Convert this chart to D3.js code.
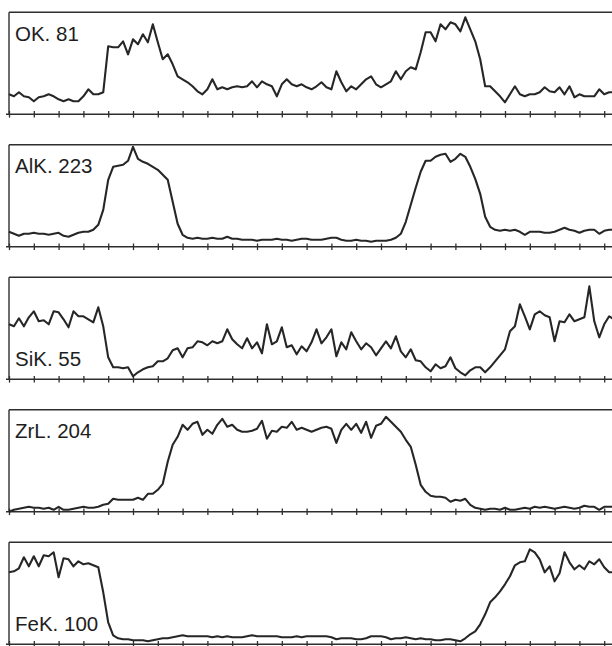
<!DOCTYPE html>
<html>
<head>
<meta charset="utf-8">
<script src="https://cdn.jsdelivr.net/npm/d3@7"></script>
<style>
  html, body { margin: 0; padding: 0; background: #fff; }
  svg { display: block; }
  .lbl { font-family: "Liberation Sans", Arial, sans-serif; font-size: 20.5px; fill: #1e1e1e; }
</style>
</head>
<body>
<svg id="chart" width="612" height="646"></svg>
<script>
// line-scan profiles, one panel per element. values = relative intensity
var labels = ["OK. 81", "AlK. 223", "SiK. 55", "ZrL. 204", "FeK. 100"];
var labelAt = ["top", "top", "bottom", "top", "bottom"];

var okValues = [20,18,22,18,17,13,17,18,20,18,15,13,15,13,13,18,25,20,20,22,
	68,67,67,73,60,75,70,80,72,90,72,55,60,50,38,35,32,28,23,20,
	25,35,25,27,25,27,28,27,28,33,27,33,30,28,18,30,35,30,28,30,
	27,25,28,32,27,25,43,32,23,28,25,30,35,38,30,27,30,33,43,35,
	43,47,45,62,82,82,73,90,85,92,90,83,97,85,73,55,28,28,23,18,
	12,20,28,20,18,20,20,22,27,23,22,27,20,28,17,20,18,18,18,25,20,22,22];

var alValues = [15,13,11,13,13,14,13,13,12,13,14,11,10,12,14,15,15,17,22,37,
	67,80,81,82,86,100,88,85,83,80,77,72,67,45,23,12,9,8,9,8,
	8,9,8,8,10,8,8,7,7,7,6,7,7,7,8,7,7,6,7,8,
	8,7,7,7,8,9,9,7,6,6,7,6,6,5,6,6,6,7,9,13,
	25,42,59,75,86,86,90,92,93,85,88,93,90,80,68,53,30,20,17,16,
	17,16,17,15,12,15,15,15,14,14,15,17,19,17,16,14,16,17,17,13,16,17,17];

var siValues = [55,53,61,53,62,68,58,59,55,68,67,60,52,68,63,63,60,57,72,53,
	22,12,12,11,12,3,7,10,12,13,18,18,21,29,31,22,31,32,38,37,
	34,38,36,38,50,40,35,31,41,31,37,26,55,35,38,52,32,34,25,33,
	28,37,50,36,42,50,23,37,30,47,38,30,36,32,24,31,38,31,43,28,
	22,30,19,18,12,8,15,11,13,22,11,7,4,9,12,12,7,12,18,24,
	30,48,53,75,63,50,65,68,64,62,38,58,57,65,58,60,62,93,58,42,55,63,60];

var zrValues = [0,2,3,4,5,4,4,3,4,2,5,2,2,3,4,5,4,4,5,7,
	8,13,12,12,12,12,14,12,18,18,22,28,50,67,75,87,82,88,90,77,
	82,78,87,93,85,87,82,80,80,81,83,91,73,81,80,85,84,90,82,84,
	82,80,82,84,85,83,69,82,88,82,88,79,90,74,86,88,95,90,85,80,
	72,65,47,27,20,16,15,15,14,10,12,11,13,7,4,3,2,3,3,2,
	4,2,2,3,4,3,5,4,5,4,3,4,5,4,3,4,6,5,5,2,5,5,5];

var feValues = [72,73,76,87,78,88,78,89,88,92,67,86,85,78,83,80,81,79,77,52,
	22,9,6,5,5,4,4,4,3,4,5,6,6,7,8,9,8,8,8,8,
	8,7,8,7,8,7,7,7,8,9,8,8,8,8,8,7,7,7,8,7,
	8,8,8,8,8,7,5,6,6,6,5,5,6,8,8,8,7,5,6,6,
	7,6,5,6,5,5,4,4,5,5,4,3,6,10,13,20,30,42,47,53,
	60,68,79,82,83,95,92,85,72,78,63,71,92,82,75,79,75,83,80,85,77,72,72];

var series = [okValues, alValues, siValues, zrValues, feValues];

var W = 612, top0 = 12.3, gap = 132.5, ph = 102;
var frameCol = "#2e2e2e", lineCol = "#262626";

// x is sample index, 5 samples per tick step
var x = d3.scaleLinear().domain([0, 120]).range([9, 604.2]);
var y = d3.scaleLinear().domain([0, 102]).range([ph, 0]);

var line = d3.line()
	.x(function(d, i) { return x(i); })
	.y(function(d) { return y(d); });

var svg = d3.select("#chart");

// slight softening, the scan in the original is a bit blurry
svg.append("defs").append("filter").attr("id", "soft")
	.append("feGaussianBlur").attr("stdDeviation", 0.45);

series.forEach(function(vals, p) {
	var g = svg.append("g").attr("transform", "translate(0," + (top0 + p * gap) + ")");

	// frame: top + left
	g.append("line").attr("x1", x(0)).attr("x2", W).attr("y1", 0).attr("y2", 0)
		.attr("stroke", frameCol).attr("stroke-width", 1.4);
	g.append("line").attr("x1", x(0)).attr("x2", x(0)).attr("y1", 0).attr("y2", ph)
		.attr("stroke", frameCol).attr("stroke-width", 1.4);

	// bottom axis, ticks crossing the line
	var ax = g.append("g").attr("transform", "translate(0," + ph + ")")
		.call(d3.axisBottom(x).tickValues(d3.range(0, 121, 5)).tickSize(6).tickSizeOuter(0).tickFormat(""));
	ax.select(".domain").remove();
	ax.selectAll(".tick line").attr("y1", -3.3).attr("y2", 3.3)
		.attr("stroke", frameCol).attr("stroke-width", 1.3);
	ax.append("line").attr("x1", 6).attr("x2", W).attr("y1", 0).attr("y2", 0)
		.attr("stroke", frameCol).attr("stroke-width", 1.4);

	g.append("path").datum(vals)
		.attr("d", line)
		.attr("fill", "none")
		.attr("stroke", lineCol)
		.attr("stroke-width", 2.1)
		.attr("stroke-linejoin", "round")
		.attr("filter", "url(#soft)");

	g.append("text").attr("class", "lbl")
		.attr("x", 15)
		.attr("y", labelAt[p] == "top" ? 28.5 : ph - 13.5)
		.text(labels[p]);
});
</script>
</body>
</html>
